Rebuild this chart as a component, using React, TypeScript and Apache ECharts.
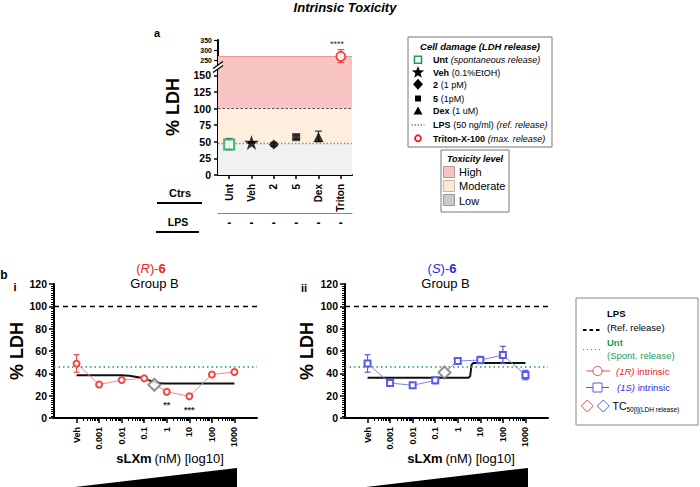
import React, { useEffect, useRef } from 'react';
import * as echarts from 'echarts';

const FONT = 'Liberation Sans, Arial, Helvetica, sans-serif';
const STAR = 'path://M50,0L61.8,35.1L98.9,35.1L68.9,56.8L80.3,91.9L50,70.2L19.7,91.9L31.1,56.8L1.1,35.1L38.2,35.1Z';

// ---------- Panel a : controls ----------
const ctrlCategories = ['Unt', 'Veh', '2', '5', 'Dex', 'Triton'];
const ctrlMeans = [46, 49, 46, 57, 57, 268];
const ctrlLow = [38, 48, 43, 54, 50, 237];
const ctrlHigh = [55, 50, 49, 60, 66, 302];
const lpsRow = ['-', '-', '-', '-', '-', '-'];
const lowerTicksA = [0, 25, 50, 75, 100, 125, 150];
const upperTicksA = [250, 300, 350];
const spontLevelA = 48;
const refLevel = 100;
const highTopA = 268;
const breakAt = 200;

// ---------- Panel b : dose response ----------
const doseTicks = [-4, -3, -2, -1, 0, 1, 2, 3]; // log10(nM); -4 = vehicle
const doseLabels = ['Veh', '0.001', '0.01', '0.1', '1', '10', '100', '1000'];
const rMeans = [48.7, 30, 34, 35.5, 23.5, 19.5, 39, 41.2];
const rErrLow = [41, null, null, 34.3, 21.5, null, null, null];
const rErrHigh = [56.7, null, null, 37.3, 25, null, null, null];
const rSignif = ['', '', '', '', '**', '***', '', ''];
const sMeans = [48.7, 31.3, 29.3, 33.7, 51, 51.9, 56.4, 38.5];
const sErrLow = [41, null, null, 30.7, null, 48.7, 48.7, 34.3];
const sErrHigh = [56.7, null, null, 35.5, null, 55.2, 64.2, 42.7];
const rFitX = [-4, -3, -2, -1.6, -1.2, -0.9, -0.6, -0.3, 0, 1, 2, 3];
const rFitY = [38.3, 38.3, 38.3, 37.6, 36.2, 34.4, 32.4, 31.2, 30.8, 30.8, 30.8, 30.8];
const sFitX = [-4, 0.48, 0.55, 0.61, 0.68, 3];
const sFitY = [36.1, 36.1, 37.5, 47.5, 49.2, 49.2];
const rTC50 = [-0.55, 29.8];
const sTC50 = [-0.59, 40.8];
const spontLevelB = 46;

const RED = '#f04848';
const RED_LINE = '#f28a8a';
const BLUE = '#5a5aee';
const BLUE_LINE = '#8080f0';
const GREEN = '#1f9a5c';

const minorDose: number[] = [];
for (let d = -4; d <= 2; d++) for (let k = 2; k <= 9; k++) minorDose.push(d + Math.log10(k));

const ctrlSymbols = ['emptyRect', STAR, 'diamond', 'rect', 'triangle', 'emptyCircle'];
const ctrlSizes = [10, 15, 10, 8, 10, 9];
const ctrlColors = [GREEN, '#000', '#000', '#111', '#000', '#ee2020'];
const ctrlErrColors = [GREEN, '#000', '#333', '#555', '#333', '#ee5050'];

function errSeries(xIdx: number, yIdx: number, data: any[], colors: string[], cap: number) {
  return {
    type: 'custom', xAxisIndex: xIdx, yAxisIndex: yIdx, z: 4, silent: true, clip: false,
    encode: { x: 0, y: [1, 2] },
    data,
    renderItem: (params: any, api: any) => {
      const x = api.value(0), lo = api.value(1), hi = api.value(2), ci = api.value(3);
      const a = api.coord([x, lo]);
      const b = api.coord([x, hi]);
      const st = { stroke: colors[ci] || colors[0], lineWidth: 1.2 };
      return {
        type: 'group', children: [
          { type: 'line', shape: { x1: a[0], y1: a[1], x2: b[0], y2: b[1] }, style: st },
          { type: 'line', shape: { x1: a[0] - cap, y1: a[1], x2: a[0] + cap, y2: a[1] }, style: st },
          { type: 'line', shape: { x1: b[0] - cap, y1: b[1], x2: b[0] + cap, y2: b[1] }, style: st },
        ],
      };
    },
  };
}

function T(x: number, y: number, text: string, s: any = {}, extra: any = {}) {
  return {
    type: 'text', x, y, silent: true, z: 100,
    style: { text, fontFamily: FONT, fontSize: 10, fill: '#000', align: 'left', verticalAlign: 'middle', ...s },
    ...extra,
  };
}
function R(o: any) { return { fontFamily: FONT, ...o }; }
function L(x1: number, y1: number, x2: number, y2: number, st: any = {}) {
  return { type: 'line', silent: true, z: 100, shape: { x1, y1, x2, y2 }, style: { stroke: '#000', lineWidth: 1, ...st } };
}
function starPts(cx: number, cy: number, Ro: number, Ri: number) {
  const p: number[][] = [];
  for (let i = 0; i < 10; i++) {
    const a = -Math.PI / 2 + (i * Math.PI) / 5;
    const r = i % 2 ? Ri : Ro;
    p.push([cx + r * Math.cos(a), cy + r * Math.sin(a)]);
  }
  return p;
}

function buildOption() {
  const lowerIdx = ctrlMeans.map((v, i) => i).filter((i) => ctrlMeans[i] < breakAt);
  const upperIdx = ctrlMeans.map((v, i) => i).filter((i) => ctrlMeans[i] >= breakAt);
  const ctrlItem = (i: number) => ({
    value: [i, ctrlMeans[i]],
    symbol: ctrlSymbols[i],
    symbolSize: ctrlSizes[i],
    itemStyle: {
      color: ctrlColors[i],
      borderColor: ctrlColors[i],
      borderWidth: ctrlSymbols[i].startsWith('empty') ? 2 : 0,
    },
  });

  const errB = (lo: (number | null)[], hi: (number | null)[]) =>
    doseTicks.map((x, i) => (lo[i] == null ? null : [x, lo[i], hi[i], 0])).filter((d) => d);

  const yAxisB = (g: number) => ({
    type: 'value', gridIndex: g, min: 0, max: 120, interval: 20,
    splitLine: { show: false },
    axisLine: { show: true, onZero: false, lineStyle: { color: '#000', width: 2 } },
    axisTick: { show: true, length: 5, lineStyle: { color: '#000', width: 1.5 } },
    minorTick: { show: true, splitNumber: 10, length: 3, lineStyle: { color: '#000', width: 1 } },
    axisLabel: { color: '#000', fontWeight: 'bold', fontSize: 10.5, margin: 7, fontFamily: FONT },
  });
  const xAxisB = (g: number) => ({
    type: 'value', gridIndex: g, min: -5, max: 4, position: 'bottom',
    splitLine: { show: false },
    axisLine: { show: true, onZero: false, lineStyle: { color: '#000', width: 2 } },
    axisTick: { show: true, customValues: doseTicks, length: 5, lineStyle: { color: '#000', width: 1.5 } },
    axisLabel: {
      customValues: doseTicks, rotate: 90, color: '#000', fontWeight: 'bold', fontSize: 9, margin: 9, fontFamily: FONT,
      formatter: (v: number) => doseLabels[doseTicks.indexOf(Math.round(v))] || '',
    },
  });
  const xMinorB = (g: number) => ({
    type: 'value', gridIndex: g, min: -5, max: 4, position: 'bottom',
    splitLine: { show: false },
    axisLine: { show: false, onZero: false },
    axisLabel: { show: false },
    axisTick: { show: true, customValues: minorDose, length: 3, lineStyle: { color: '#000', width: 1 } },
  });

  const refLinesB = (xi: number, yi: number) => ({
    type: 'line', xAxisIndex: xi, yAxisIndex: yi, z: 1, silent: true, data: [],
    markLine: {
      symbol: 'none', silent: true, label: { show: false }, animation: false,
      data: [
        { yAxis: refLevel, lineStyle: { color: '#000', type: [5, 4], width: 1.3 } },
        { yAxis: spontLevelB, lineStyle: { color: GREEN, type: [1.5, 3], width: 1.5 } },
      ],
    },
  });

  const graphic: any[] = [
    T(345, 7, 'Intrinsic Toxicity', { fontSize: 13, fontWeight: 'bold', fontStyle: 'italic', align: 'center' }),
    T(157, 33, 'a', { fontSize: 11, fontWeight: 'bold', align: 'center' }),
    T(173, 107, '% LDH', { fontSize: 18, fontWeight: 'bold', align: 'center' }, { rotation: Math.PI / 2 }),
    // axis break
    { type: 'polygon', silent: true, z: 100, shape: { points: [[214, 68], [222, 62.5], [222, 66.5], [214, 72]] }, style: { fill: '#fff' } },
    L(213, 68.5, 223, 61.5, { lineWidth: 1.3 }),
    L(213, 72.5, 223, 65.5, { lineWidth: 1.3 }),
    T(337, 44, '****', { fontSize: 9, fill: '#333', align: 'center' }),
    T(180, 193, 'Ctrs', { fontSize: 11, fontWeight: 'bold', align: 'center' }),
    L(157, 203, 202, 203, { lineWidth: 2 }),
    T(178, 222, 'LPS', { fontSize: 10.5, fontWeight: 'bold', align: 'center' }),
    L(156, 232, 199, 232, { lineWidth: 2 }),

    // legend a
    { type: 'rect', silent: true, z: 90, shape: { x: 408, y: 37, width: 144, height: 110 }, style: { fill: '#fff', stroke: '#777', lineWidth: 1 } },
    T(480, 46, 'Cell damage (LDH release)', { fontSize: 9.5, fontWeight: 'bold', fontStyle: 'italic', align: 'center' }),
    { type: 'rect', silent: true, z: 100, shape: { x: 414.5, y: 56.2, width: 7, height: 7 }, style: { fill: '#fff', stroke: GREEN, lineWidth: 1.6 } },
    { type: 'polygon', silent: true, z: 100, shape: { points: starPts(418, 72.5, 6.5, 2.7) }, style: { fill: '#000' } },
    { type: 'polygon', silent: true, z: 100, shape: { points: [[418, 78.8], [423, 84.3], [418, 89.8], [413, 84.3]] }, style: { fill: '#000' } },
    { type: 'rect', silent: true, z: 100, shape: { x: 415, y: 95.5, width: 6, height: 6 }, style: { fill: '#000' } },
    { type: 'polygon', silent: true, z: 100, shape: { points: [[418, 106.5], [422.5, 114.5], [413.5, 114.5]] }, style: { fill: '#000' } },
    L(411.5, 125, 424.5, 125, { stroke: '#444', lineDash: [1.5, 1.5] }),
    { type: 'circle', silent: true, z: 100, shape: { cx: 418, cy: 138.3, r: 3 }, style: { fill: '#fff', stroke: '#ee2020', lineWidth: 1.8 } },
    T(433, 60, '{b|Unt} {i|(spontaneous release)}', { rich: { b: R({ fontWeight: 'bold', fontSize: 9 }), i: R({ fontStyle: 'italic', fontSize: 9 }) } }),
    T(433, 72.5, '{b|Veh} {n|(0.1%EtOH)}', { rich: { b: R({ fontWeight: 'bold', fontSize: 9 }), n: R({ fontSize: 9 }) } }),
    T(433, 84.5, '{b|2} {n|(1 pM)}', { rich: { b: R({ fontWeight: 'bold', fontSize: 9 }), n: R({ fontSize: 9 }) } }),
    T(433, 98.5, '{b|5} {n|(1pM)}', { rich: { b: R({ fontWeight: 'bold', fontSize: 9 }), n: R({ fontSize: 9 }) } }),
    T(433, 111, '{b|Dex} {n|(1 uM)}', { rich: { b: R({ fontWeight: 'bold', fontSize: 9 }), n: R({ fontSize: 9 }) } }),
    T(433, 125, '{b|LPS} {n|(50 ng/ml)} {i|(ref. release)}', { rich: { b: R({ fontWeight: 'bold', fontSize: 9 }), n: R({ fontSize: 9 }), i: R({ fontStyle: 'italic', fontSize: 9 }) } }),
    T(433, 138.5, '{b|Triton-X-100} {i|(max. release)}', { rich: { b: R({ fontWeight: 'bold', fontSize: 9 }), i: R({ fontStyle: 'italic', fontSize: 9 }) } }),

    // toxicity legend
    { type: 'rect', silent: true, z: 90, shape: { x: 441, y: 150, width: 68, height: 62 }, style: { fill: '#fff', stroke: '#777', lineWidth: 1 } },
    T(475, 158.5, 'Toxicity level', { fontSize: 9, fontWeight: 'bold', fontStyle: 'italic', align: 'center' }),
    { type: 'rect', silent: true, z: 100, shape: { x: 443.5, y: 166.5, width: 11, height: 11 }, style: { fill: '#f7c1c1', stroke: '#b99', lineWidth: 1 } },
    { type: 'rect', silent: true, z: 100, shape: { x: 443.5, y: 180.5, width: 11, height: 11 }, style: { fill: '#fde8d3', stroke: '#bba', lineWidth: 1 } },
    { type: 'rect', silent: true, z: 100, shape: { x: 443.5, y: 194.5, width: 11, height: 11 }, style: { fill: '#c9c9c9', stroke: '#999', lineWidth: 1 } },
    T(459, 172, 'High', { fontSize: 11 }),
    T(459, 186, 'Moderate', { fontSize: 11 }),
    T(459, 200.5, 'Low', { fontSize: 11 }),

    // panel b labels
    T(4, 275, 'b', { fontSize: 12, fontWeight: 'bold', align: 'center' }),
    T(15, 287, 'i', { fontSize: 11, fontWeight: 'bold', align: 'center' }),
    T(304, 288, 'ii', { fontSize: 11, fontWeight: 'bold', align: 'center' }),
    T(151, 268, '{p|(}{i|R}{p|)-}{b|6}', { align: 'center', rich: { p: R({ fontSize: 13, fill: '#ee2222', color: '#ee2222' }), i: R({ fontSize: 13, fontStyle: 'italic', fill: '#ee2222', color: '#ee2222' }), b: R({ fontSize: 13, fontWeight: 'bold', fill: '#ee2222', color: '#ee2222' }) } }),
    T(154.5, 283, 'Group B', { fontSize: 13, align: 'center' }),
    T(442, 268, '{p|(}{i|S}{p|)-}{b|6}', { align: 'center', rich: { p: R({ fontSize: 13, fill: '#2b2be0', color: '#2b2be0' }), i: R({ fontSize: 13, fontStyle: 'italic', fill: '#2b2be0', color: '#2b2be0' }), b: R({ fontSize: 13, fontWeight: 'bold', fill: '#2b2be0', color: '#2b2be0' }) } }),
    T(445.5, 283, 'Group B', { fontSize: 13, align: 'center' }),
    T(17, 351, '% LDH', { fontSize: 18, fontWeight: 'bold', align: 'center' }, { rotation: Math.PI / 2 }),
    T(307, 351, '% LDH', { fontSize: 18, fontWeight: 'bold', align: 'center' }, { rotation: Math.PI / 2 }),
    T(170, 458, '{b|sLXm} {n|(nM) [log10]}', { align: 'center', rich: { b: R({ fontSize: 13, fontWeight: 'bold' }), n: R({ fontSize: 13 }) } }),
    T(461, 458, '{b|sLXm} {n|(nM) [log10]}', { align: 'center', rich: { b: R({ fontSize: 13, fontWeight: 'bold' }), n: R({ fontSize: 13 }) } }),
    { type: 'polygon', silent: true, z: 100, shape: { points: [[75, 487], [237, 468], [237, 487]] }, style: { fill: '#000' } },
    { type: 'polygon', silent: true, z: 100, shape: { points: [[366, 487], [528, 468], [528, 487]] }, style: { fill: '#000' } },

    // legend b
    { type: 'rect', silent: true, z: 90, shape: { x: 576, y: 298, width: 122, height: 127 }, style: { fill: '#fff', stroke: '#888', lineWidth: 1 } },
    T(607, 313.5, 'LPS', { fontSize: 9.5, fontWeight: 'bold' }),
    T(607, 327.5, '(Ref. release)', { fontSize: 9.5 }),
    L(583, 330, 601, 330, { lineWidth: 1.8, lineDash: [3.5, 3] }),
    T(607, 342, 'Unt', { fontSize: 9.5, fontWeight: 'bold', fill: GREEN }),
    T(607, 355.5, '(Spont. release)', { fontSize: 9.5, fill: GREEN }),
    L(583, 349.5, 601, 349.5, { stroke: GREEN, lineWidth: 1.2, lineDash: [1, 3] }),
    L(586.5, 371, 610, 371, { stroke: RED, lineWidth: 1 }),
    { type: 'circle', silent: true, z: 101, shape: { cx: 597.5, cy: 371, r: 4.6 }, style: { fill: '#fff', stroke: RED, lineWidth: 1 } },
    T(616, 371, '{i|(1R)} {n|intrinsic}', { rich: { i: R({ fontSize: 9.5, fontStyle: 'italic', fill: '#ee2222', color: '#ee2222' }), n: R({ fontSize: 9.5, fill: '#ee2222', color: '#ee2222' }) } }),
    L(586, 387.5, 609, 387.5, { stroke: BLUE, lineWidth: 1 }),
    { type: 'rect', silent: true, z: 101, shape: { x: 593, y: 383, width: 9, height: 9 }, style: { fill: '#fff', stroke: BLUE, lineWidth: 1 } },
    T(617, 387.5, '{i|(1S)} {n|intrinsic}', { rich: { i: R({ fontSize: 9.5, fontStyle: 'italic', fill: '#2b2be0', color: '#2b2be0' }), n: R({ fontSize: 9.5, fill: '#2b2be0', color: '#2b2be0' }) } }),
    { type: 'polygon', silent: true, z: 100, shape: { points: [[587.3, 400], [593.3, 406], [587.3, 412], [581.3, 406]] }, style: { fill: '#fff', stroke: RED, lineWidth: 1 } },
    { type: 'polygon', silent: true, z: 100, shape: { points: [[603.3, 400], [609.3, 406], [603.3, 412], [597.3, 406]] }, style: { fill: '#fff', stroke: BLUE, lineWidth: 1 } },
    T(612.5, 406, '{t|TC}{s|50[i](LDH release)}', { rich: { t: R({ fontSize: 10.5, lineHeight: 14 }), s: R({ fontSize: 6.5, lineHeight: 14, verticalAlign: 'bottom', padding: [6, 0, 0, 0] }) } }),
  ];

  return {
    animation: false,
    textStyle: { fontFamily: FONT },
    grid: [
      { left: 218, top: 40, width: 134, height: 22 },
      { left: 218, top: 62, width: 134, height: 113 },
      { left: 54, top: 284, width: 203, height: 134 },
      { left: 345, top: 284, width: 203, height: 134 },
    ],
    xAxis: [
      { type: 'category', gridIndex: 0, data: ctrlCategories, show: false },
      {
        type: 'category', gridIndex: 1, data: ctrlCategories, position: 'bottom',
        axisLine: { show: true, onZero: false, lineStyle: { color: '#000', width: 2 } },
        axisTick: { show: true, alignWithLabel: true, length: 4, lineStyle: { color: '#000', width: 1.5 } },
        axisLabel: { rotate: 90, color: '#000', fontWeight: 'bold', fontSize: 10, margin: 9, fontFamily: FONT },
      },
      {
        type: 'category', gridIndex: 1, data: ctrlCategories, position: 'bottom', offset: 38,
        axisLine: { show: true, onZero: false, lineStyle: { color: '#888', width: 1 } },
        axisTick: { show: false },
        axisLabel: { color: '#000', fontWeight: 'bold', fontSize: 12, margin: 4, fontFamily: FONT, formatter: (v: string, i: number) => lpsRow[i] },
      },
      xAxisB(2),
      xMinorB(2),
      xAxisB(3),
      xMinorB(3),
    ],
    yAxis: [
      {
        type: 'value', gridIndex: 0, min: 240, max: 350, splitLine: { show: false },
        axisLine: { show: true, onZero: false, lineStyle: { color: '#000', width: 2 } },
        axisTick: { show: true, customValues: upperTicksA, length: 4, lineStyle: { color: '#000', width: 1.2 } },
        axisLabel: { customValues: upperTicksA, color: '#000', fontWeight: 'bold', fontSize: 7, margin: 6, fontFamily: FONT },
      },
      {
        type: 'value', gridIndex: 1, min: 0, max: 170, splitLine: { show: false },
        axisLine: { show: true, onZero: false, lineStyle: { color: '#000', width: 2 } },
        axisTick: { show: true, customValues: lowerTicksA, length: 4, lineStyle: { color: '#000', width: 1.5 } },
        axisLabel: { customValues: lowerTicksA, color: '#000', fontWeight: 'bold', fontSize: 10.5, margin: 7, fontFamily: FONT },
      },
      yAxisB(2),
      yAxisB(3),
    ],
    series: [
      // panel a bands
      {
        type: 'line', xAxisIndex: 1, yAxisIndex: 1, z: 0, silent: true, data: [],
        markArea: {
          silent: true,
          data: [
            [{ yAxis: 0, itemStyle: { color: '#f1f1f1' } }, { yAxis: spontLevelA }],
            [{ yAxis: spontLevelA, itemStyle: { color: '#fdeede' } }, { yAxis: refLevel }],
            [{ yAxis: refLevel, itemStyle: { color: '#f8c4c4' } }, { yAxis: 170 }],
          ],
        },
        markLine: {
          symbol: 'none', silent: true, label: { show: false },
          data: [
            { yAxis: refLevel, lineStyle: { color: '#555', type: [2.5, 2], width: 1 } },
            { yAxis: spontLevelA, lineStyle: { color: '#5cb07c', type: [1.5, 2], width: 1.3 } },
          ],
        },
      },
      {
        type: 'line', xAxisIndex: 0, yAxisIndex: 0, z: 0, silent: true, data: [],
        markArea: { silent: true, data: [[{ yAxis: 240, itemStyle: { color: '#f8c4c4' } }, { yAxis: highTopA }]] },
        markLine: { symbol: 'none', silent: true, label: { show: false }, data: [{ yAxis: highTopA, lineStyle: { color: '#e89a9a', type: 'solid', width: 1 } }] },
      },
      errSeries(1, 1, lowerIdx.map((i) => [i, ctrlLow[i], ctrlHigh[i], i]), ctrlErrColors, 3.5),
      errSeries(0, 0, upperIdx.map((i) => [i, ctrlLow[i], ctrlHigh[i], i]), ctrlErrColors, 3.5),
      { type: 'scatter', xAxisIndex: 1, yAxisIndex: 1, z: 5, data: lowerIdx.map(ctrlItem) },
      { type: 'scatter', xAxisIndex: 0, yAxisIndex: 0, z: 5, clip: false, data: upperIdx.map(ctrlItem) },

      // panel b i
      refLinesB(3, 2),
      {
        type: 'line', xAxisIndex: 3, yAxisIndex: 2, z: 3, smooth: 0.4, symbol: 'none',
        lineStyle: { color: '#111', width: 2 }, data: rFitX.map((x, i) => [x, rFitY[i]]),
      },
      errSeries(3, 2, errB(rErrLow, rErrHigh), [RED], 3),
      {
        type: 'line', xAxisIndex: 3, yAxisIndex: 2, z: 5, symbol: 'emptyCircle', symbolSize: 6,
        lineStyle: { color: RED_LINE, width: 1 }, itemStyle: { color: RED, borderColor: RED, borderWidth: 1.2 },
        data: doseTicks.map((x, i) => ({
          value: [x, rMeans[i]],
          label: rSignif[i]
            ? { show: true, formatter: rSignif[i], position: 'bottom', distance: 5, fontSize: 9, color: '#333', fontWeight: 'bold', fontFamily: FONT }
            : { show: false },
        })),
      },
      {
        type: 'scatter', xAxisIndex: 3, yAxisIndex: 2, z: 6, symbol: 'emptyDiamond', symbolSize: 12,
        itemStyle: { color: '#777', borderColor: '#777', borderWidth: 1.2 }, data: [rTC50],
      },

      // panel b ii
      refLinesB(5, 3),
      {
        type: 'line', xAxisIndex: 5, yAxisIndex: 3, z: 3, symbol: 'none',
        lineStyle: { color: '#111', width: 2 }, data: sFitX.map((x, i) => [x, sFitY[i]]),
      },
      errSeries(5, 3, errB(sErrLow, sErrHigh), [BLUE], 3),
      {
        type: 'line', xAxisIndex: 5, yAxisIndex: 3, z: 5, symbol: 'emptyRect', symbolSize: 6,
        lineStyle: { color: BLUE_LINE, width: 1 }, itemStyle: { color: BLUE, borderColor: BLUE, borderWidth: 1.2 },
        data: doseTicks.map((x, i) => [x, sMeans[i]]),
      },
      {
        type: 'scatter', xAxisIndex: 5, yAxisIndex: 3, z: 6, symbol: 'emptyDiamond', symbolSize: 12,
        itemStyle: { color: '#777', borderColor: '#777', borderWidth: 1.2 }, data: [sTC50],
      },
    ],
    graphic,
  };
}

export default function App() {
  const ref = useRef<HTMLDivElement>(null);
  useEffect(() => {
    if (!ref.current) return;
    const chart = echarts.init(ref.current, undefined, { renderer: 'svg' });
    chart.setOption(buildOption() as any);
    return () => chart.dispose();
  }, []);
  return (
    <div
      ref={ref}
      style={{ position: 'fixed', left: 0, top: 0, width: 700, height: 487, background: '#fff' }}
    />
  );
}
